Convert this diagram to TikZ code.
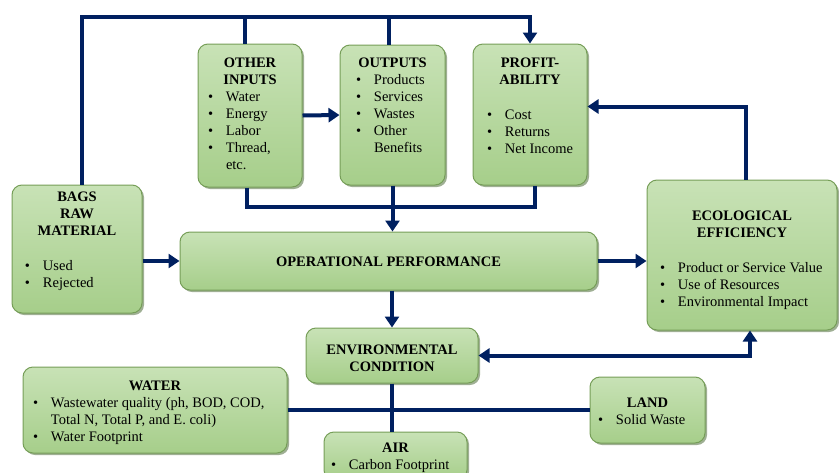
\documentclass[tikz,border=0pt]{standalone}
\usepackage{fontspec}
\setmainfont{Liberation Serif}
\usetikzlibrary{arrows.meta,shadows}

\definecolor{navy}{RGB}{0,32,96}
\definecolor{leaftop}{RGB}{200,226,182}
\definecolor{leafbot}{RGB}{166,206,138}
\definecolor{leafedge}{RGB}{118,158,88}
\definecolor{leafshade}{RGB}{80,110,60}

% box text: heading lines, item lines
\newcommand{\hd}[1]{{\centering\bfseries #1\par}}
\newcommand{\itm}[1]{\par\hangindent=18pt\hangafter=1\noindent\makebox[18pt][l]{\textbullet}#1}
\newcommand{\blk}[4]{\parbox[c][#2][t]{#1}{\setlength{\parskip}{0pt}\vspace*{#3}#4\par}}

\begin{document}
\begin{tikzpicture}[x=1pt,y=-1pt,
  box/.style={draw=leafedge, line width=1pt, rounded corners=10pt, inner sep=0pt,
    top color=leaftop, bottom color=leafbot,
    drop shadow={shadow xshift=2pt, shadow yshift=-2pt, fill=leafshade, opacity=0.55},
    font=\fontsize{14.5}{17}\selectfont},
  bus/.style={draw=navy, line width=4pt},
  arr/.style={bus, -{Triangle[width=14pt,length=11pt]}},
  arrs/.style={bus, {Triangle[width=14pt,length=11pt]}-{Triangle[width=14pt,length=11pt]}}]
\useasboundingbox (0,0) rectangle (839,472);

\node[box] (bags) at (77,249) {\blk{130pt}{128pt}{7pt}{\hd{BAGS\\RAW\\MATERIAL}\vspace{18pt}
  {\leftskip=13pt \itm{Used}\itm{Rejected}\par}}};
\node[box] (inputs) at (250,115.5) {\blk{104pt}{143pt}{14pt}{\hd{OTHER\\INPUTS}
  {\leftskip=10pt \itm{Water}\itm{Energy}\itm{Labor}\itm{Thread,\\etc.}\par}}};
\node[box] (outputs) at (392.5,115) {\blk{105pt}{140pt}{13pt}{\hd{OUTPUTS}
  {\leftskip=16pt \itm{Products}\itm{Services}\itm{Wastes}\itm{Other\\Benefits}\par}}};
\node[box] (profit) at (530,114.5) {\blk{114pt}{141pt}{14pt}{\hd{PROFIT-\\ABILITY}\vspace{18pt}
  {\leftskip=14pt \itm{Cost}\itm{Returns}\itm{Net Income}\par}}};
\node[box] (eco) at (742,255) {\blk{190pt}{150pt}{31pt}{\hd{ECOLOGICAL\\EFFICIENCY}\vspace{18pt}
  {\leftskip=13pt \itm{Product or Service Value}\itm{Use of Resources}\itm{Environmental Impact}\par}}};
\node[box] (oper) at (388.5,261) {\blk{417pt}{58pt}{25pt}{\hd{OPERATIONAL PERFORMANCE}}};
\node[box] (env) at (392,355.5) {\blk{172pt}{55pt}{17pt}{\hd{ENVIRONMENTAL\\CONDITION}}};
\node[box] (water) at (155,410) {\blk{264pt}{86pt}{14pt}{\hd{WATER}
  {\leftskip=10pt \itm{Wastewater quality (ph, BOD, COD,\\Total N, Total P, and E. coli)}\itm{Water Footprint}\par}}};
\node[box] (air) at (395.5,456) {\blk{143pt}{48pt}{11pt}{\hd{AIR}
  {\leftskip=7pt \itm{Carbon Footprint}\par}}};
\node[box] (land) at (647.5,410) {\blk{115pt}{66pt}{21pt}{\hd{LAND}
  {\leftskip=8pt \itm{Solid Waste}\par}}};

\coordinate (topy) at (0,17);
\coordinate (boty) at (0,207);

% top feedback line
\draw[arr] ([xshift=5pt]bags.north) |- (topy -| profit.north) -- (profit.north);
\draw[bus] ([xshift=-5pt]inputs.north) -- ([xshift=-5pt]inputs.north |- topy);
\draw[bus] ([xshift=-4pt]outputs.north) -- ([xshift=-4pt]outputs.north |- topy);
\draw[arr] (inputs.east) -- (outputs.west);

% collector under the upper boxes
\draw[bus] ([xshift=-3pt]inputs.south) |- ([xshift=5pt]profit.south |- boty) -- ([xshift=5pt]profit.south);
\draw[arr] (outputs.south) -- (outputs.south |- oper.north);

\draw[arr] (oper.west -| bags.east) -- (oper.west);
\draw[arr] (oper.east) -- (oper.east -| eco.west);
\draw[arr] (env.north |- oper.south) -- (env.north);
\draw[arr] ([xshift=4pt]eco.north) |- ([yshift=8pt]profit.east);
\draw[arrs] (env.east) -| ([xshift=8pt]eco.south);

% environmental compartments
\draw[bus] (water.east) -- (land.west);
\draw[bus] (env.south) -- (env.south |- air.north);
\end{tikzpicture}
\end{document}
